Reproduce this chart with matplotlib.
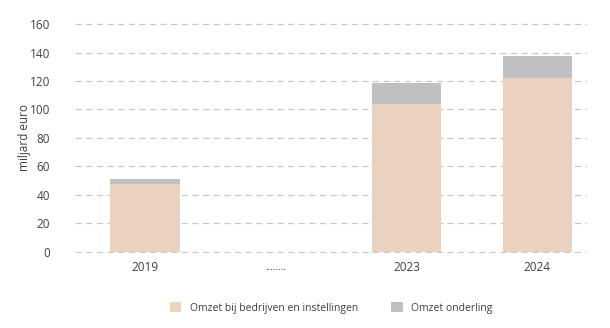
import matplotlib
matplotlib.use("Agg")
import matplotlib.pyplot as plt
from matplotlib.patches import Patch

categories = ["2019", "........", "2023", "2024"]
omzet_bedrijven = [47.6, 0, 104.0, 122.3]
omzet_onderling = [3.5, 0, 14.8, 15.0]
yticks = [0, 20, 40, 60, 80, 100, 120, 140, 160]

beige = "#EAD2BF"
gray = "#C0C0C2"
text_color = "#404040"

plt.rcParams['font.family'] = ['Open Sans', 'DejaVu Sans']

fig = plt.figure(figsize=(6.10, 3.28), dpi=100)
ax = fig.add_axes([0.123, 0.230, 0.839, 0.699])

x = list(range(len(categories)))
ax.bar(x, omzet_bedrijven, width=0.53, color=beige, zorder=2)
ax.bar(x, omzet_onderling, width=0.53, bottom=omzet_bedrijven, color=gray, zorder=2)

ax.set_ylim(-0.6, 160.6)
ax.set_xlim(-0.535, 3.38)
ax.set_yticks(yticks)
ax.set_yticklabels([str(v) for v in yticks], fontsize=8.5, color=text_color)
ax.set_xticks(x)
ax.set_xticklabels([c if not c.startswith(".") else "" for c in categories],
                   fontsize=8.5, color=text_color)
for i, c in enumerate(categories):
    if c.startswith("."):
        ax.annotate(c, xy=(i, 0), xycoords=("data", "axes fraction"),
                    xytext=(0, -12.5), textcoords="offset points",
                    ha="center", va="baseline", fontsize=7, color=text_color)

ax.tick_params(axis='y', length=0, pad=18)
ax.tick_params(axis='x', length=0, pad=6)
for s in ax.spines.values():
    s.set_visible(False)
ax.yaxis.grid(True, color="#c8c8c8", linestyle=(0, (5, 3.5)), linewidth=0.9, zorder=0)
ax.set_axisbelow(True)
ax.set_ylabel("miljard euro", fontsize=8.5, color=text_color)
ax.yaxis.set_label_coords(-0.087, 0.5)

handles = [Patch(facecolor="#EED6BA", edgecolor="none", label="Omzet bij bedrijven en instellingen"),
           Patch(facecolor=gray, edgecolor="none", label="Omzet onderling")]
fig.legend(handles=handles, loc="center", bbox_to_anchor=(0.543, 0.061), ncol=2,
           frameon=False, fontsize=7.5, handlelength=1.1, handleheight=1.1,
           columnspacing=3.2, handletextpad=0.8, labelcolor=text_color)

fig.savefig("out.png", dpi=100)
